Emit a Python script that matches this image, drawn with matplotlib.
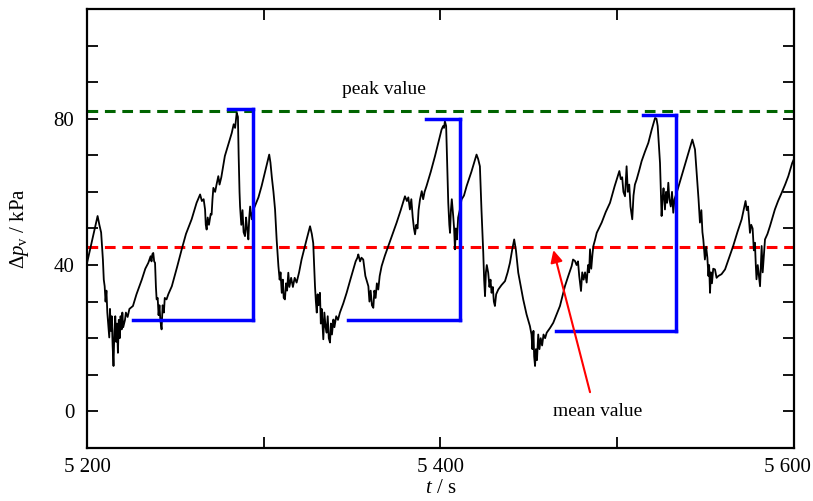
import numpy as np
import matplotlib
matplotlib.use('Agg')
import matplotlib.pyplot as plt
from matplotlib.ticker import MultipleLocator, FuncFormatter

plt.rcParams['font.family'] = ['Liberation Serif', 'DejaVu Serif']
plt.rcParams['mathtext.fontset'] = 'custom'
plt.rcParams['mathtext.rm'] = 'Liberation Serif'
plt.rcParams['mathtext.it'] = 'Liberation Serif:italic'

# pressure fluctuation trace
t = [5200, 5203, 5206, 5207, 5208, 5209, 5209.5, 5210, 5210.5, 5211, 5211.5, 5212, 5212.6, 5213, 5213.5,
     5214, 5214.5, 5215, 5215.5, 5216, 5216.5, 5217, 5217.5, 5218, 5218.5, 5219, 5219.6, 5220, 5220.5,
     5221.5, 5222, 5223, 5224, 5226, 5228, 5231, 5233, 5234.7, 5236, 5236.5, 5237, 5237.5, 5238, 5238.5,
     5239, 5239.4, 5240, 5240.5, 5241, 5241.5, 5242.2, 5242.8, 5243.5, 5244, 5245, 5246, 5248, 5251,
     5253.6, 5256, 5259.2, 5262, 5264, 5265, 5266, 5266.8, 5267.2, 5267.7, 5268.3, 5269, 5270, 5270.5,
     5271, 5271.5, 5272.5, 5273.3, 5274.3, 5275, 5276, 5278, 5280, 5281.9, 5283, 5283.8, 5284.7, 5285.4,
     5285.8, 5286.3, 5286.6, 5287.3, 5288, 5288.6, 5289.4, 5290, 5290.6, 5291.3, 5291.8, 5292.3, 5293.2,
     5294, 5295, 5297, 5298.8, 5301, 5303.1, 5303.8, 5304.6, 5305.5, 5306.4, 5307.3, 5308.3, 5309, 5309.5,
     5310.2, 5310.8, 5311.3, 5312, 5312.6, 5313.2, 5313.9, 5314.5, 5315.5, 5316.5, 5317.5, 5318.6, 5320,
     5321.4, 5324, 5326.2, 5327.2, 5328, 5328.5, 5329, 5329.5, 5330, 5330.5, 5331, 5331.8, 5332.3, 5332.8,
     5333.7, 5334.3, 5335, 5335.6, 5336.2, 5336.8, 5337.5, 5338, 5338.6, 5339.4, 5340, 5341, 5342, 5343.1,
     5345, 5346.9, 5349, 5350.7, 5352, 5353, 5353.5, 5354.5, 5355.3, 5356.3, 5357.5, 5359.2, 5359.8, 5360.5,
     5361.2, 5362, 5362.6, 5363.3, 5364, 5364.8, 5365.6, 5366.7, 5368.5, 5370.5, 5373, 5375.2, 5377.5,
     5379.9, 5381, 5381.8, 5382.7, 5383.5, 5384.3, 5385, 5385.6, 5386.3, 5387, 5387.6, 5388.4, 5389.4,
     5390.2, 5391, 5392.1, 5394.5, 5396.9, 5398.8, 5400.6, 5401.5, 5402, 5402.5, 5403.2, 5403.8, 5404.4,
     5405, 5405.4, 5405.9, 5406.4, 5407.2, 5407.7, 5408.2, 5408.7, 5409.3, 5410, 5411, 5411.9, 5413.3,
     5414.8, 5417.5, 5420.4, 5421.3, 5422.3, 5423.2, 5424.2, 5424.7, 5425.2, 5425.7, 5426.2, 5427, 5427.7,
     5428.3, 5428.9, 5429.6, 5430.2, 5430.8, 5431.5, 5432.7, 5434.5, 5436.5, 5438, 5439.3, 5440.5, 5441.7,
     5442.7, 5444, 5445.5, 5446.8, 5448.7, 5450.6, 5451.5, 5452, 5452.6, 5453, 5453.5, 5454, 5454.6, 5455.3,
     5456, 5456.7, 5457.5, 5458.3, 5459.2, 5460.1, 5462, 5463.8, 5465.7, 5467.6, 5470.4, 5472.3, 5474.2,
     5475, 5476.1, 5477, 5477.8, 5478.5, 5479.5, 5480.2, 5481, 5481.8, 5482.7, 5483.5, 5484.1, 5484.6,
     5485.3, 5486, 5486.5, 5487.5, 5488.4, 5491.2, 5493.5, 5495.9, 5498.5, 5501.2, 5502, 5502.8, 5503.5,
     5504.4, 5505.3, 5506, 5506.8, 5507.5, 5508.5, 5509.2, 5510, 5511, 5512.5, 5513.8, 5515.7, 5517.6,
     5519.5, 5521.4, 5522.2, 5522.9, 5524.2, 5525.1, 5525.6, 5526.2, 5527, 5527.6, 5528.2, 5528.9, 5529.5,
     5530.3, 5531, 5531.7, 5532.4, 5533.6, 5535, 5536.4, 5539.5, 5542.5, 5543.2, 5544, 5545, 5546, 5546.8,
     5547.6, 5548.2, 5548.7, 5549.2, 5549.6, 5550.3, 5551, 5551.6, 5552, 5552.5, 5553, 5553.6, 5554.3,
     5555.3, 5556.2, 5557.2, 5559, 5561, 5563.3, 5565.6, 5568, 5570.4, 5571.5, 5572.6, 5573.3, 5574,
     5575.1, 5575.8, 5576.6, 5577.3, 5577.9, 5578.4, 5578.8, 5579.5, 5580.2, 5580.8, 5581.3, 5581.7,
     5582.3, 5582.9, 5583.6, 5585, 5586.4, 5589.2, 5591, 5593, 5595, 5596.8, 5599, 5600]
dp = [40.5, 47, 53.4, 51, 48.9, 41.5, 36, 34.2, 30, 33, 27, 24, 20.2, 28, 22,
      26, 18, 12.4, 22, 26, 19, 24, 16, 25, 20, 26, 22.4, 27, 23,
      25, 27, 25.8, 28, 28.8, 32, 36, 39, 40.6, 42.4, 41, 43, 43.3, 41, 40.6,
      34, 30.6, 31, 26.3, 29, 25, 22.4, 29, 27, 31, 30.6, 32, 34.2, 39.5,
      44.3, 48.5, 52.5, 57, 59.3, 57.5, 58, 55.2, 51, 49.7, 53, 51, 54, 53.8,
      58, 61.1, 60, 62, 64.3, 62, 64, 69.8, 73, 76.1, 78.5, 77.5, 81.6, 80.5,
      70, 60, 56.1, 51, 55, 49, 47.9, 53, 50, 47, 53, 56, 52.5,
      55, 56.1, 58.5, 61.6, 66, 70.2, 68, 63.9, 60, 55.2, 47, 39.7, 36, 38,
      32.4, 36, 31, 30.6, 35, 33, 37.9, 34, 36.5, 34, 36.5, 35.2, 38,
      41.5, 46.5, 50.6, 48.5, 46, 40, 34.2, 30, 27, 32, 29, 32.4, 24, 28,
      19.7, 27, 23, 21.5, 26, 20, 18.8, 24, 21, 25.1, 23, 26, 25, 27,
      29.5, 32.4, 36, 38.8, 41, 42, 42.9, 41, 42, 41.5, 37, 34.2, 30, 33,
      29, 28.3, 33, 31, 35, 33.3, 37, 39.7, 42.5, 45.2, 48.5, 51.6, 55,
      58.8, 57.5, 58.5, 55.2, 58, 53, 50, 48.4, 51, 50, 55, 57.9, 60.2,
      58, 60, 61.6, 65.5, 69.8, 73.5, 77, 78, 77.5, 79.3, 78, 68, 57,
      51, 48.8, 55, 58, 53.4, 50, 44.3, 50, 47, 53, 55.2, 57.9, 59,
      61.6, 65.5, 70.2, 69, 67, 55, 43.4, 36, 31.5, 38, 40, 37.9, 34,
      36, 32.4, 34, 30, 28.8, 32, 33.3, 34.5, 35.6, 38, 40.6, 44, 47,
      44, 37.9, 34, 30.6, 26.5, 23.3, 21, 17, 22, 15, 12.4, 17, 14, 21,
      17, 20, 18, 21, 20, 21.5, 22.8, 24.2, 26.5, 28.8, 34.2, 37, 39.7,
      41.5, 41.1, 40, 41, 37, 32.9, 38, 36, 38, 35.2, 40, 38, 44.3,
      39, 43, 45.2, 47, 48.8, 51.6, 54.5, 57, 61.5, 65.7, 63.5, 64, 60,
      58.8, 67, 60, 62, 56, 52.5, 59, 62, 63.4, 66, 68.4, 71, 73.4,
      77, 80.2, 80, 78, 67.9, 53.4, 58, 61, 55.2, 60, 57, 62.5, 58,
      56, 60, 54.3, 58, 59.7, 62, 64.3, 69.5, 74.3, 73, 71.6, 65, 58, 51.6,
      55, 49, 47, 44, 41.5, 45, 42, 37, 40, 32.4, 38, 35, 39,
      38.8, 36.5, 37, 37.5, 38.8, 42, 45.2, 49, 52.5, 55, 57.5, 55, 56,
      48.8, 51, 50, 44, 46.1, 40, 36.1, 40, 37, 34.2, 40, 45.2,
      38, 42, 47, 48.5, 50.6, 55.2, 57.5, 59.7, 62, 64.3, 67.9, 69]

peak_level = 82
mean_level = 45

# blue brackets: peak start, peak value, drop time, trough start, trough value
br_peak_start = [5279.8, 5392, 5514.6]
br_peak_val = [82.7, 80, 80.9]
br_drop_t = [5293.8, 5410.8, 5533.5]
br_low_start = [5226, 5347.7, 5465.3]
br_low_val = [25.1, 24.9, 21.9]

t_min, t_max = 5200, 5600

def fmt_t(v):
    return '%d %03d' % (v // 1000, v % 1000)

fig = plt.figure(figsize=(8.13, 5.01), dpi=100)
ax = fig.add_axes([0.107, 0.106, 0.8696, 0.876])

ax.plot(t, dp, color='black', lw=1.3, zorder=3)
ax.axhline(peak_level, color='#006400', ls=(0, (3.5, 2.2)), lw=2.2, zorder=2)
ax.axhline(mean_level, color='#ff0000', ls=(0, (3.5, 2.2)), lw=2.2, zorder=2)

for i in range(len(br_drop_t)):
    ax.plot([br_peak_start[i], br_drop_t[i]], [br_peak_val[i], br_peak_val[i]], color='#0000ff', lw=2.5, zorder=4, solid_capstyle='projecting')
    ax.plot([br_drop_t[i], br_drop_t[i]], [br_low_val[i], br_peak_val[i]], color='#0000ff', lw=2.5, zorder=4)
    ax.plot([br_low_start[i], br_drop_t[i]], [br_low_val[i], br_low_val[i]], color='#0000ff', lw=2.5, zorder=4, solid_capstyle='projecting')

ax.text(5368, 88, 'peak value', fontsize=14, ha='center', va='center')
ax.text(5489, 0, 'mean value', fontsize=14, ha='center', va='center')
ax.annotate('', xy=(5463.5, 44.8), xytext=(5485, 4.5),
            arrowprops=dict(arrowstyle='-|>', color='#ff0000', lw=1.5, mutation_scale=18), zorder=5)

ax.set_xlim(t_min, t_max)
ax.set_ylim(-10, 110)
ax.xaxis.set_major_locator(MultipleLocator(100))
ax.yaxis.set_major_locator(MultipleLocator(10))
# the last label (5 600) is drawn separately, nudged left so it stays inside the figure
ax.xaxis.set_major_formatter(FuncFormatter(lambda v, p: fmt_t(v) if v % 200 == 0 and v < t_max else ''))
ax.yaxis.set_major_formatter(FuncFormatter(lambda v, p: '%d' % v if v % 40 == 0 else ''))
ax.tick_params(direction='in', length=8, width=1.3, top=True, right=True, labelsize=15)
ax.tick_params(axis='y', pad=9)
ax.tick_params(axis='x', pad=7)
for s in ax.spines.values():
    s.set_linewidth(1.6)

ax.annotate(fmt_t(t_max), xy=(t_max, 0), xycoords=('data', 'axes fraction'),
            xytext=(-5, -7), textcoords='offset points', ha='center', va='top', fontsize=15)

ax.set_xlabel(r'$t$ / s', fontsize=15, labelpad=2)
ax.set_ylabel(r'$\Delta p_{\rm v}$ / kPa', fontsize=15, labelpad=16)

fig.savefig('out.png', dpi=100)
